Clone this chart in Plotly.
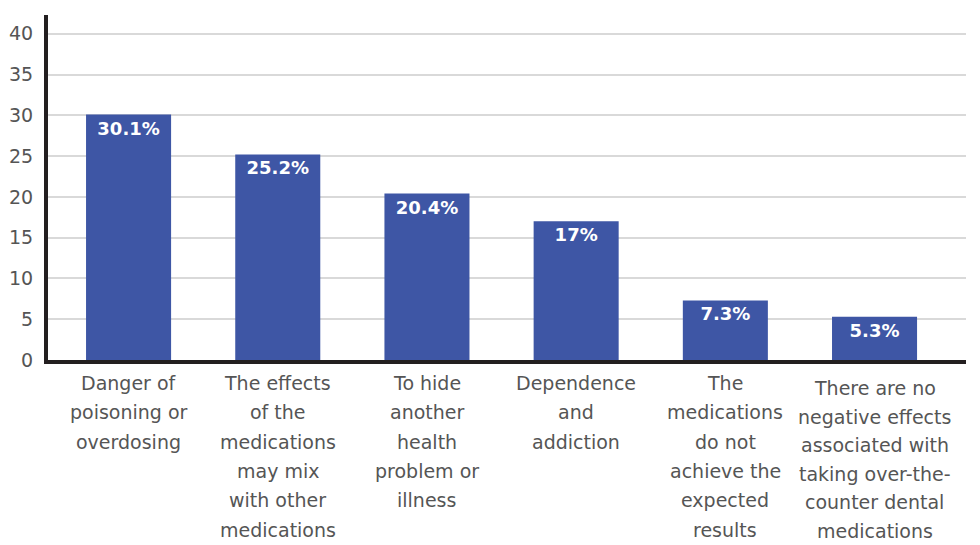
import plotly.graph_objects as go

# Survey responses: perceived risks of over-the-counter dental medications
categories = [
    "Danger of<br>poisoning or<br>overdosing",
    "The effects<br>of the<br>medications<br>may mix<br>with other<br>medications",
    "To hide<br>another<br>health<br>problem or<br>illness",
    "Dependence<br>and<br>addiction",
    "The<br>medications<br>do not<br>achieve the<br>expected<br>results",
    "There are no<br>negative effects<br>associated with<br>taking over-the-<br>counter dental<br>medications",
]
values = [30.1, 25.2, 20.4, 17, 7.3, 5.3]
value_labels = ["30.1%", "25.2%", "20.4%", "17%", "7.3%", "5.3%"]
y_ticks = [0, 5, 10, 15, 20, 25, 30, 35, 40]

BAR_COLOR = "#3E56A5"
TEXT_COLOR = "#555555"
FONT = "DejaVu Sans"

x_idx = list(range(len(categories)))

fig = go.Figure(
    go.Bar(
        x=x_idx,
        y=values,
        marker=dict(color=BAR_COLOR, line=dict(width=0)),
        width=0.57,
        text=value_labels,
        textposition="inside",
        insidetextanchor="end",
        textangle=0,
        textfont=dict(family=FONT, size=18, color="white", weight="bold"),
        hoverinfo="skip",
    )
)

# Multi-line category labels under the axis, one annotation per line
for i, label in enumerate(categories):
    lines = label.split("<br>")
    # the last label sits a little lower under its bar, with tighter lines
    last = i == len(categories) - 1
    top = -15 if last else -10
    step = 28.6 if last else 29.3
    for j, line in enumerate(lines):
        fig.add_annotation(
            x=i, y=0, xref="x", yref="y",
            text=line, showarrow=False,
            xanchor="center", yanchor="top",
            yshift=top - step * j,
            font=dict(family=FONT, size=19, color=TEXT_COLOR),
        )

fig.update_layout(
    width=980, height=545,
    margin=dict(l=48, r=14, t=15, b=185),
    paper_bgcolor="white", plot_bgcolor="white",
    showlegend=False,
    font=dict(family=FONT, color=TEXT_COLOR),
)
fig.update_xaxes(
    range=[-0.54, 5.613],
    showticklabels=False, ticks="",
    showgrid=False, zeroline=False, automargin=False,
    showline=True, linecolor="#231f20", linewidth=4,
)
fig.update_yaxes(
    range=[0, 42.3],
    tickvals=y_ticks, ticktext=[str(t) for t in y_ticks],
    tickfont=dict(family=FONT, size=19, color=TEXT_COLOR),
    ticks="", ticklabelstandoff=7, automargin=False,
    showgrid=True, gridcolor="#d9d9d9", gridwidth=2,
    zeroline=False,
    showline=True, linecolor="#231f20", linewidth=4,
)

fig.write_html("out.html")
